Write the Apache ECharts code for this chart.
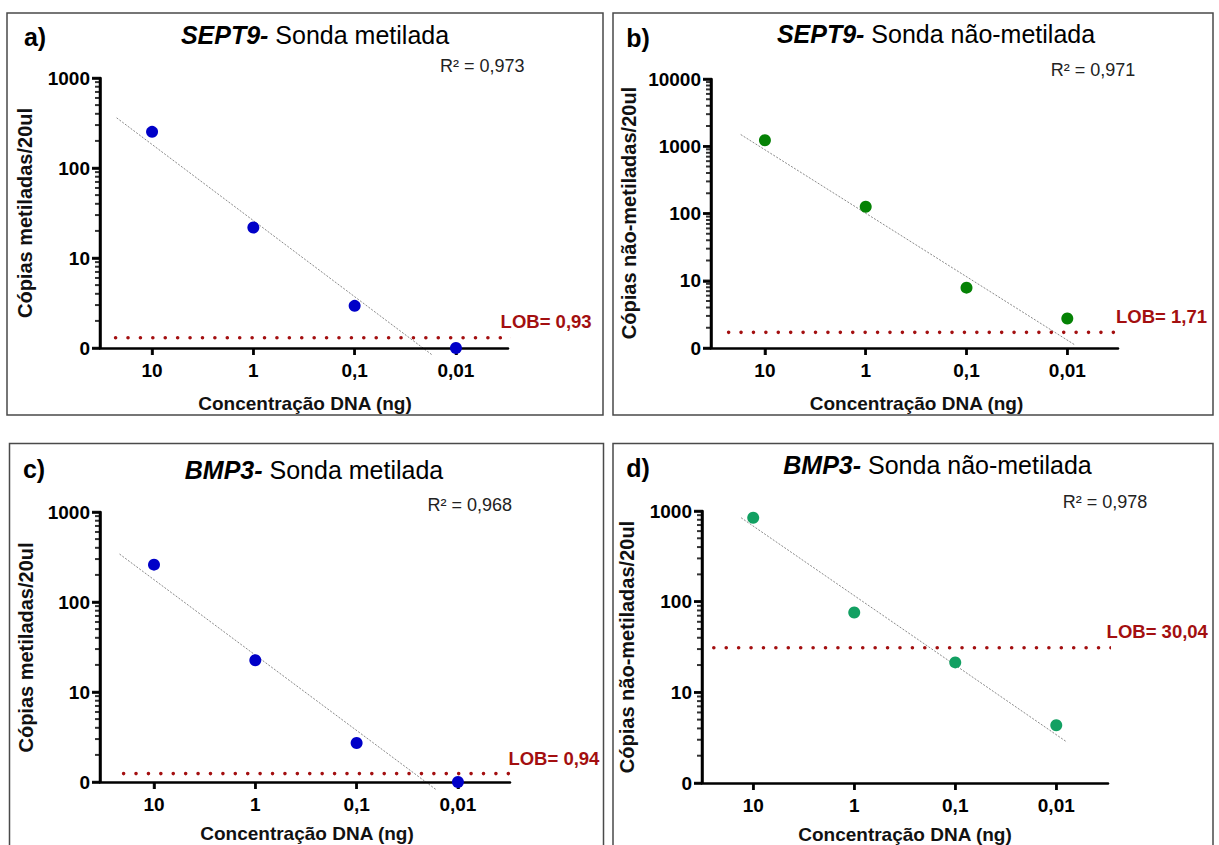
<!DOCTYPE html>
<html><head><meta charset="utf-8">
<script src="https://cdn.jsdelivr.net/npm/echarts@6/dist/echarts.min.js"></script>
<style>html,body{margin:0;padding:0;background:#fff}#c{width:1219px;height:845px}</style>
</head><body><div id="c"></div>
<script>
// ---------- DATA ----------
// x categories: DNA concentration (ng), plotted at index 0..3
const xCategories = ['10', '1', '0,1', '0,01'];
const xIndex = [0, 1, 2, 3];

// y tick values / labels (log axis, bottom "0" drawn at the floor value 1)
const yTicks3 = [1, 10, 100, 1000];
const yTickLabels3 = ['0', '10', '100', '1000'];
const yTicks4 = [1, 10, 100, 1000, 10000];
const yTickLabels4 = ['0', '10', '100', '1000', '10000'];
const yMinor3 = [2,3,4,5,6,7,8,9,20,30,40,50,60,70,80,90,200,300,400,500,600,700,800,900];
const yMinor4 = [2,3,4,5,6,7,8,9,20,30,40,50,60,70,80,90,200,300,400,500,600,700,800,900,2000,3000,4000,5000,6000,7000,8000,9000];

// copies / 20ul (value 1 = axis floor labelled "0")
const valuesA = [252, 21.8, 2.94, 1];     // SEPT9 metilada
const valuesB = [1230, 126, 7.9, 2.74];   // SEPT9 não-metilada
const valuesC = [260, 22.5, 2.71, 1];     // BMP3 metilada
const valuesD = [843, 76, 21.4, 4.33];    // BMP3 não-metilada

// regression line end points [x index, copies]
const trendA = [[-0.35, 361], [2.77, 0.83]];
const trendB = [[-0.24, 1493], [3.08, 1.10]];
const trendC = [[-0.34, 341], [2.78, 0.83]];
const trendD = [[-0.12, 843], [3.105, 2.83]];

// LOB lines (level as drawn, x extent in index units)
const lobLevelA = 1.30, lobLevelB = 1.71, lobLevelC = 1.24, lobLevelD = 31.0;
const lobSpanA = [-0.36, 3.61], lobSpanB = [-0.36, 3.60], lobSpanC = [-0.30, 3.56], lobSpanD = [-0.39, 3.58];

const r2Texts = ['R² = 0,973', 'R² = 0,971', 'R² = 0,968', 'R² = 0,978'];
const lobTexts = ['LOB= 0,93', 'LOB= 1,71', 'LOB= 0,94', 'LOB= 30,04'];
const letters = ['a)', 'b)', 'c)', 'd)'];
const genes = ['SEPT9-', 'SEPT9-', 'BMP3-', 'BMP3-'];
const probes = ['Sonda metilada', 'Sonda não-metilada', 'Sonda metilada', 'Sonda não-metilada'];
const yNames = ['Cópias metiladas/20ul', 'Cópias não-metiladas/20ul', 'Cópias metiladas/20ul', 'Cópias não-metiladas/20ul'];
const xName = 'Concentração DNA (ng)';

// ---------- LAYOUT / STYLE ----------
const FONT = 'Liberation Sans, Arial, sans-serif';
const RED = '#a30f10';
const panels = [
  {values: valuesA, trend: trendA, lob: lobLevelA, lobSpan: lobSpanA, ticks: yTicks3, tickLabels: yTickLabels3, minor: yMinor3, yMax: 1000,
   color: '#0000c8', grid: {left: 100, top: 78, width: 408, height: 270}, xr: [-0.514, 3.514],
   box: [7, 13, 596, 402], letter: [35, 37], title: [315, 35], r2: [440, 66], lobT: [500.6, 321.5], xn: [305, 403], yn: [24.5, 213]},
  {values: valuesB, trend: trendB, lob: lobLevelB, lobSpan: lobSpanB, ticks: yTicks4, tickLabels: yTickLabels4, minor: yMinor4, yMax: 10000,
   color: '#058205', grid: {left: 711, top: 79, width: 407, height: 269}, xr: [-0.535, 3.503],
   box: [613, 13, 600, 402], letter: [638, 37.5], title: [936, 34], r2: [1050.7, 70], lobT: [1116, 316.5], xn: [916.5, 403], yn: [628.5, 213]},
  {values: valuesC, trend: trendC, lob: lobLevelC, lobSpan: lobSpanC, ticks: yTicks3, tickLabels: yTickLabels3, minor: yMinor3, yMax: 1000,
   color: '#0000c8', grid: {left: 100, top: 512, width: 410, height: 270}, xr: [-0.533, 3.514],
   box: [9.5, 443.5, 594, 410], letter: [34, 469], title: [314, 470], r2: [427.5, 505], lobT: [508.4, 758], xn: [307, 833.5], yn: [26.4, 647.5]},
  {values: valuesD, trend: trendD, lob: lobLevelD, lobSpan: lobSpanD, ticks: yTicks3, tickLabels: yTickLabels3, minor: yMinor3, yMax: 1000,
   color: '#12a062', grid: {left: 702, top: 511, width: 406, height: 272}, xr: [-0.507, 3.512],
   box: [613, 443.5, 600, 410], letter: [638, 468], title: [937.5, 465], r2: [1062.8, 502], lobT: [1106.6, 631.7], xn: [905, 834], yn: [627, 647]}
];

function logLabel(ticks, labs) {
  return v => {
    for (let k = 0; k < ticks.length; k++) {
      if (Math.abs(Math.log10(v) - Math.log10(ticks[k])) < 1e-6) return labs[k];
    }
    return '';
  };
}

const grids = [], xAxes = [], yAxes = [], series = [], graphics = [];
panels.forEach((p, i) => {
  grids.push(Object.assign({}, p.grid));
  xAxes.push({
    type: 'value', gridIndex: i, min: p.xr[0], max: p.xr[1], z: 8,
    axisLine: {show: true, onZero: false, lineStyle: {color: '#000', width: 2.5}},
    axisTick: {show: true, customValues: xIndex, length: 7, lineStyle: {color: '#000', width: 2.5}},
    axisLabel: {customValues: xIndex, formatter: v => xCategories[Math.round(v)], margin: 13,
      fontFamily: FONT, fontSize: 19, fontWeight: 'bold', color: '#000'},
    splitLine: {show: false}
  });
  const ticks = p.ticks, labs = p.tickLabels;
  yAxes.push({
    type: 'log', logBase: 10, gridIndex: i, min: 1, max: p.yMax, position: 'left', z: 8,
    axisLine: {show: true, onZero: false, lineStyle: {color: '#000', width: 2.5}},
    axisTick: {show: true, customValues: ticks, length: 8, lineStyle: {color: '#000', width: 2.5}},
    axisLabel: {customValues: ticks, margin: 10, fontFamily: FONT, fontSize: 19, fontWeight: 'bold', color: '#000',
      formatter: logLabel(ticks, labs)},
    splitLine: {show: false}
  });
  yAxes.push({
    type: 'log', logBase: 10, gridIndex: i, min: 1, max: p.yMax, position: 'left', z: 8,
    axisLine: {show: false, onZero: false},
    axisTick: {show: false}, axisLabel: {show: false}, splitLine: {show: false}
  });
  const base = {xAxisIndex: i, yAxisIndex: 2 * i, clip: false, silent: true};
  // y axis line, major / minor ticks and x ticks drawn through the same scales
  series.push(Object.assign({type: 'line', data: [[p.xr[0], 1], [p.xr[0], p.yMax]], symbol: 'none', z: 9,
    lineStyle: {color: '#000', width: 2.5}}, base));
  series.push(Object.assign({type: 'scatter', data: ticks.map(v => [p.xr[0], v]), symbol: 'rect', symbolSize: [8, 2.5],
    symbolOffset: [-4, 0], z: 9, itemStyle: {color: '#000'}}, base));
  series.push(Object.assign({type: 'scatter', data: p.minor.map(v => [p.xr[0], v]), symbol: 'rect', symbolSize: [5, 2],
    symbolOffset: [-2.5, 0], z: 9, itemStyle: {color: '#000'}}, base));
  series.push(Object.assign({type: 'scatter', data: xIndex.map(x => [x, 1]), symbol: 'rect', symbolSize: [2.5, 7],
    symbolOffset: [0, 3.5], z: 9, itemStyle: {color: '#000'}}, base));
  series.push(Object.assign({type: 'line', data: p.trend, symbol: 'none', z: 6,
    lineStyle: {color: '#8a8a8a', width: 1, type: [2, 1.5]}}, base));
  series.push(Object.assign({type: 'line', data: [[p.lobSpan[0], p.lob], [p.lobSpan[1], p.lob]], symbol: 'none', z: 7,
    lineStyle: {color: RED, width: 3.6, type: [0.01, 12.4], cap: 'round'}}, base));
  series.push(Object.assign({type: 'scatter', data: xIndex.map((x, k) => [x, p.values[k]]), symbolSize: 12, z: 10,
    itemStyle: {color: p.color, opacity: 1}}, base));

  graphics.push({type: 'rect', silent: true, z: -10, shape: {x: p.box[0], y: p.box[1], width: p.box[2], height: p.box[3]},
    style: {fill: 'transparent', stroke: '#4a4a4a', lineWidth: 1.5}});
  graphics.push({type: 'text', x: p.letter[0], y: p.letter[1], z: 20,
    style: {text: letters[i], fontFamily: FONT, fontSize: 25, fontWeight: 'bold', fill: '#000', align: 'center', verticalAlign: 'middle'}});
  graphics.push({type: 'text', x: p.title[0], y: p.title[1], z: 20,
    style: {text: '{g|' + genes[i] + '} ' + probes[i], fontFamily: FONT, fontSize: 25, fill: '#000', align: 'center', verticalAlign: 'middle',
      rich: {g: {fontFamily: FONT, fontSize: 25, fontWeight: 'bold', fontStyle: 'italic', fill: '#000'}}}});
  graphics.push({type: 'text', x: p.r2[0], y: p.r2[1], z: 20,
    style: {text: r2Texts[i], fontFamily: FONT, fontSize: 18, fill: '#222', align: 'left', verticalAlign: 'middle'}});
  graphics.push({type: 'text', x: p.lobT[0], y: p.lobT[1], z: 20,
    style: {text: lobTexts[i], fontFamily: FONT, fontSize: 18.5, fontWeight: 'bold', fill: RED, align: 'left', verticalAlign: 'middle'}});
  graphics.push({type: 'text', x: p.xn[0], y: p.xn[1], z: 20,
    style: {text: xName, fontFamily: FONT, fontSize: 19, fontWeight: 'bold', fill: '#111', align: 'center', verticalAlign: 'middle'}});
  graphics.push({type: 'text', x: p.yn[0], y: p.yn[1], rotation: Math.PI / 2, z: 20,
    style: {text: yNames[i], fontFamily: FONT, fontSize: 20, fontWeight: 'bold', fill: '#111', align: 'center', verticalAlign: 'middle'}});
});

const chart = echarts.init(document.getElementById('c'), null, {renderer: 'svg', width: 1219, height: 845});
chart.setOption({
  animation: false,
  backgroundColor: '#fff',
  grid: grids, xAxis: xAxes, yAxis: yAxes, series: series,
  graphic: {elements: graphics}
});
</script></body></html>
